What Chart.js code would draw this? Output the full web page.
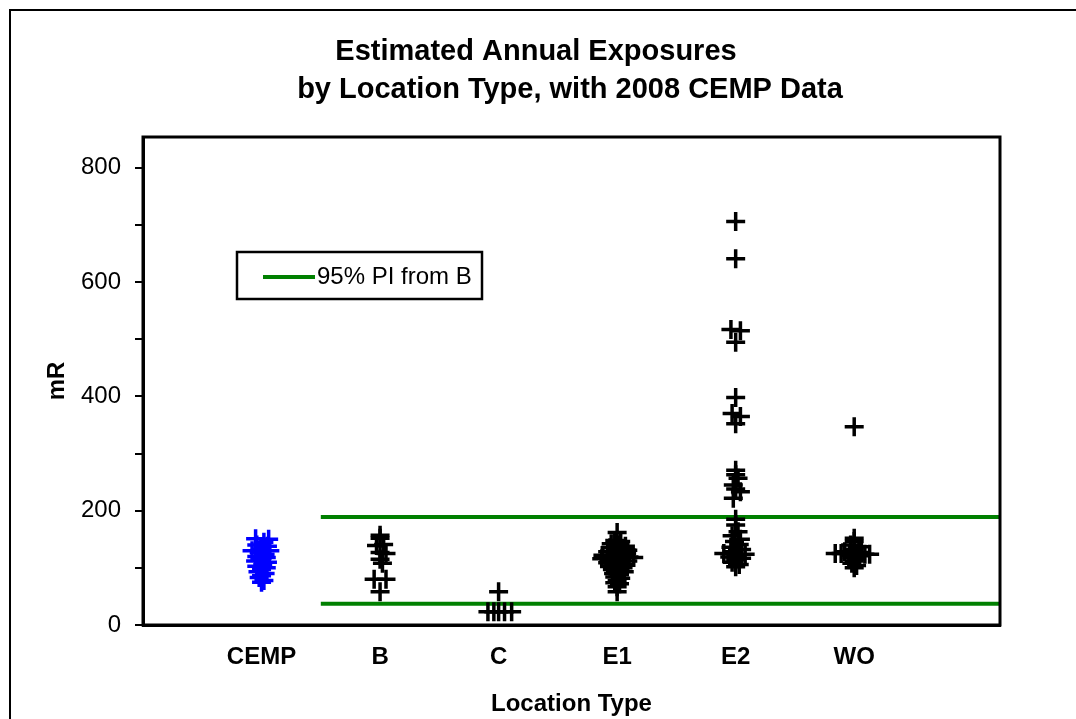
<!DOCTYPE html>
<html>
<head>
<meta charset="utf-8">
<title>Estimated Annual Exposures by Location Type</title>
<script src="https://cdn.jsdelivr.net/npm/chart.js@4.4.1/dist/chart.umd.min.js"></script>
<style>
  html, body { margin: 0; padding: 0; background: #fff; }
  #wrap { width: 1076px; height: 719px; }
</style>
</head>
<body>
<div id="wrap"><canvas id="chart" width="1076" height="719"></canvas></div>
<script>
const titleLines = ['Estimated Annual Exposures', 'by Location Type, with 2008 CEMP Data'];
const categories = ['CEMP', 'B', 'C', 'E1', 'E2', 'WO'];
const yLabelTicks = [0, 200, 400, 600, 800];

// mR values per location type, plus the sideways jitter (category units) seen in the plot
const cempValues = [151, 150, 145, 140, 138, 133, 130, 130, 127, 124, 120, 118, 115, 112, 110, 106, 103, 100, 97, 93, 90, 86, 83, 78, 75];
const cempJitter = [-0.05, 0.06, 0.02, -0.04, 0.05, 0, -0.08, 0.07, -0.02, 0.03, -0.04, 0.04, 0, -0.05, 0.05, 0.01, -0.04, 0.04, 0, -0.03, 0.03, 0, -0.02, 0.02, 0];

const bValues = [157, 152, 141, 139, 127, 125, 115, 108, 80, 80, 58];
const bJitter = [0, 0, 0.03, -0.03, 0, 0.05, 0, 0.02, -0.05, 0.05, 0];

const cValues = [58, 23, 23, 23, 23, 23];
const cJitter = [0, -0.09, -0.04, 0, 0.05, 0.11];

const e1Values = [162, 148, 146, 142, 140, 138, 135, 134, 132, 131, 128, 127, 126, 125, 122, 121, 120, 120, 119, 118,
  116, 115, 114, 113, 112, 109, 108, 107, 106, 103, 102, 100, 97, 95, 93, 90, 88, 84, 82, 78, 74, 72, 67, 58];
const e1Jitter = [0, -0.02, 0.03, -0.05, 0.02, 0.07, -0.06, 0, 0.05, 0.09, -0.08, -0.02, 0.03, 0.08, -0.12, -0.06, 0, 0.05, 0.1, 0.14,
  -0.13, -0.07, -0.02, 0.04, 0.09, -0.08, -0.03, 0.02, 0.07, -0.06, 0, 0.05, -0.04, 0.02, 0.06, -0.03, 0.02, -0.02, 0.03, 0, -0.02, 0.02, 0, 0];

const e2Values = [706, 641, 517, 515, 495, 398, 370, 365, 352, 271, 263, 257, 245, 238, 233, 222,
  185, 175, 163, 156, 150, 146, 141, 136, 132, 128, 125, 124, 122, 119, 117, 114, 110, 106, 102];
const e2Jitter = [0, 0, -0.04, 0.04, 0, 0, -0.03, 0.04, 0, 0, 0, 0.02, -0.02, 0, 0.04, -0.02,
  0, 0, 0.02, -0.03, 0.04, -0.01, 0.03, -0.04, 0.05, -0.02, -0.1, 0.08, 0, -0.05, 0.05, 0, -0.03, 0.03, 0];

const woValues = [347, 152, 146, 140, 137, 132, 128, 127, 125, 125, 124, 124, 123, 122, 121, 118, 116, 112, 108, 104, 100];
const woJitter = [0, 0, 0, -0.03, 0.04, 0, -0.08, 0.06, -0.16, -0.11, 0.09, 0.13, 0, -0.04, 0.04, -0.02, 0.02, 0, -0.02, 0.02, 0];

// 95% prediction interval from location type B
const piLabel = '95% PI from B';
const piBounds = [37, 189];
const piStart = 1.5;

const X_MAX = 7.23;
const Y_MAX = 854;
const FONT = '"Liberation Sans", Arial, sans-serif';
const GREEN = 'rgb(0,128,0)';

function pts(idx, values, jitter) {
  return values.map((v, i) => ({ x: idx + 1 + jitter[i], y: v }));
}

const groups = [cempValues, bValues, cValues, e1Values, e2Values, woValues];
const jitters = [cempJitter, bJitter, cJitter, e1Jitter, e2Jitter, woJitter];

const pointSets = categories.map((name, i) => ({
  label: name,
  data: pts(i, groups[i], jitters[i]),
  pointStyle: 'cross',
  pointRadius: 9.5,
  pointHoverRadius: 9.5,
  pointBorderWidth: 3.5,
  borderColor: i === 0 ? 'rgb(0,0,255)' : '#000',
  backgroundColor: i === 0 ? 'rgb(0,0,255)' : '#000'
}));

const piSets = piBounds.map(b => ({
  label: piLabel,
  data: [{ x: piStart, y: b }, { x: X_MAX, y: b }],
  showLine: true,
  borderColor: GREEN,
  borderWidth: 4,
  pointRadius: 0
}));

const decorations = {
  id: 'decorations',
  beforeDraw(chart) {
    const ctx = chart.ctx;
    ctx.save();
    ctx.fillStyle = '#fff';
    ctx.fillRect(0, 0, chart.width, chart.height);
    // outer frame
    ctx.strokeStyle = '#000';
    ctx.lineWidth = 2;
    ctx.strokeRect(10, 10, chart.width + 20, chart.height + 20);
    // title
    ctx.fillStyle = '#000';
    ctx.font = 'bold 29px ' + FONT;
    ctx.textAlign = 'center';
    ctx.textBaseline = 'middle';
    ctx.fillText(titleLines[0], 536, 52);
    ctx.fillText(titleLines[1], 570, 90);
    ctx.restore();
  },
  afterDraw(chart) {
    const ctx = chart.ctx;
    const a = chart.chartArea;
    ctx.save();
    ctx.strokeStyle = '#000';
    ctx.lineWidth = 3;
    ctx.strokeRect(a.left, a.top, a.right - a.left, a.bottom - a.top);
    // legend box
    ctx.lineWidth = 2.5;
    ctx.strokeRect(237, 252, 245, 47);
    ctx.strokeStyle = GREEN;
    ctx.lineWidth = 4;
    ctx.beginPath();
    ctx.moveTo(263, 277);
    ctx.lineTo(315, 277);
    ctx.stroke();
    ctx.fillStyle = '#000';
    ctx.font = '24px ' + FONT;
    ctx.textAlign = 'left';
    ctx.textBaseline = 'middle';
    ctx.fillText(piLabel, 317, 277);
    ctx.restore();
  }
};

new Chart(document.getElementById('chart'), {
  type: 'scatter',
  data: { datasets: [...pointSets, ...piSets] },
  options: {
    responsive: false,
    animation: false,
    layout: { padding: { top: 137, right: 76, bottom: 0, left: 0 } },
    plugins: {
      legend: { display: false },
      title: { display: false },
      tooltip: { enabled: false }
    },
    scales: {
      x: {
        type: 'linear',
        min: 0,
        max: X_MAX,
        afterBuildTicks: s => { s.ticks = categories.map((c, i) => ({ value: i + 1 })); },
        afterFit: s => { s.height = 94; },
        grid: { drawOnChartArea: false, drawTicks: false },
        border: { color: '#000', width: 3 },
        ticks: {
          color: '#000',
          padding: 18,
          maxRotation: 0,
          autoSkip: false,
          font: { family: FONT, size: 24, weight: 'bold' },
          callback: v => categories[Math.round(v) - 1] || ''
        },
        title: {
          display: true,
          text: 'Location Type',
          color: '#000',
          font: { family: FONT, size: 24, weight: 'bold' },
          padding: { top: 0, bottom: 0 }
        }
      },
      y: {
        min: 0,
        max: Y_MAX,
        afterFit: s => { s.width = 143; },
        grid: { drawOnChartArea: false, drawTicks: true, tickLength: 8, color: '#000', lineWidth: 2 },
        border: { color: '#000', width: 3 },
        ticks: {
          stepSize: 100,
          includeBounds: false,
          color: '#000',
          padding: 14,
          font: { family: FONT, size: 24 },
          callback: v => yLabelTicks.includes(v) ? v : ''
        },
        title: {
          display: true,
          text: 'mR',
          color: '#000',
          font: { family: FONT, size: 24, weight: 'bold' },
          padding: { top: 43, bottom: 0 }
        }
      }
    }
  },
  plugins: [decorations]
});
</script>
</body>
</html>
